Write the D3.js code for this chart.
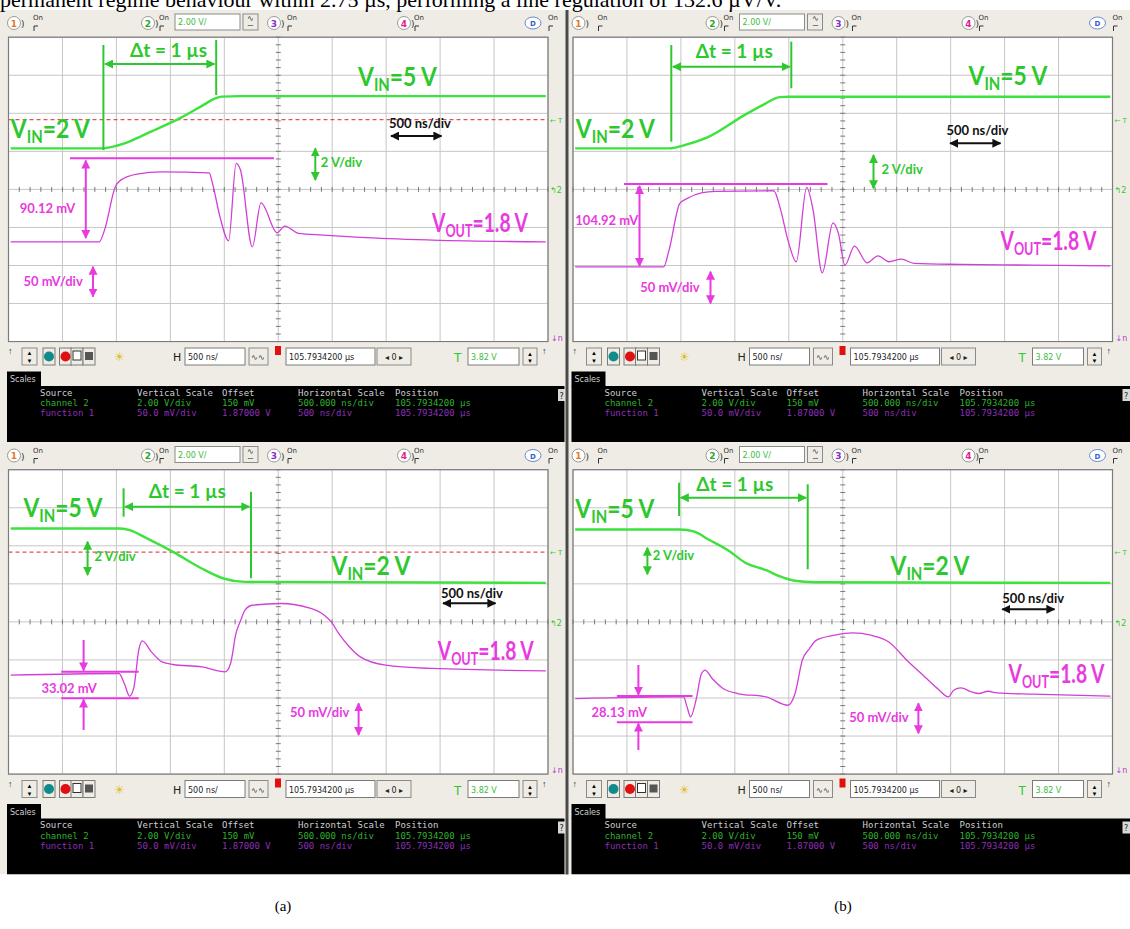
<!DOCTYPE html>
<html>
<head>
<meta charset="utf-8">
<script src="https://cdn.jsdelivr.net/npm/d3@7"></script>
<style>
  body { margin: 0; background: #fff; }
  svg { display: block; }
</style>
</head>
<body>
<svg id="fig" width="1130" height="929"></svg>
<script>
// ---------- data read off the four scope captures ----------
// time in µs (screen centre = 0), channel 2 in V, function 1 in V
const titleText = "permanent regime behaviour within 2.75 µs, performing a line regulation of 132.6 µV/V.";
const panelLabels = ["(a)", "(b)"];

const vinRiseA = [[-2.48, 2.305], [-1.65, 2.305], [-1.51, 2.426], [-1.37, 2.689], [-1.19, 3.162],
  [-0.91, 3.898], [-0.68, 4.634], [-0.59, 4.923], [-0.52, 5.028], [-0.35, 5.054], [2.48, 5.054]];
const voutRiseA = [[-2.48, 1.801], [-1.66, 1.801], [-1.61, 1.8165], [-1.51, 1.8734], [-1.46, 1.8822],
  [-1.31, 1.8901], [-1.08, 1.8931], [-0.64, 1.8918], [-0.61, 1.8783], [-0.54, 1.834], [-0.46, 1.8025],
  [-0.39, 1.9042], [-0.35, 1.8954], [-0.24, 1.7946], [-0.16, 1.8524], [-0.01, 1.813], [0.06, 1.8218],
  [0.19, 1.8122], [0.42, 1.81], [0.76, 1.8069], [1.43, 1.8034], [2.48, 1.801]];

const vinRiseB = [[-2.48, 2.305], [-1.61, 2.305], [-1.467, 2.479], [-1.244, 2.915], [-0.911, 4.055],
  [-0.725, 4.634], [-0.586, 5.0], [-0.494, 5.017], [2.48, 5.017]];
const voutRiseB = [[-2.48, 1.7683], [-1.66, 1.7683], [-1.61, 1.7902], [-1.51, 1.8516], [-1.44, 1.8582],
  [-1.31, 1.8655], [-1.18, 1.8674], [-0.64, 1.8682], [-0.575, 1.8428], [-0.508, 1.8034], [-0.431, 1.7749],
  [-0.334, 1.8726], [-0.275, 1.8428], [-0.19, 1.7604], [-0.09, 1.8261], [-0.04, 1.8122], [0.02, 1.7705],
  [0.109, 1.7955], [0.227, 1.7735], [0.327, 1.7827], [0.427, 1.7749], [0.544, 1.7784], [0.66, 1.7728],
  [1.095, 1.7714], [1.763, 1.7705], [2.48, 1.7696]];

const vinFallA = [[-2.48, 5.06], [-1.46, 5.06], [-1.374, 4.97], [-1.244, 4.618], [-0.975, 3.829],
  [-0.709, 2.957], [-0.508, 2.431], [-0.308, 2.253], [2.48, 2.2]];
const voutFallA = [[-2.48, 1.8], [-1.476, 1.8022], [-1.427, 1.789], [-1.377, 1.7724], [-1.337, 1.7846],
  [-1.293, 1.8328], [-1.26, 1.845], [-1.176, 1.8306], [-1.076, 1.8174], [-0.975, 1.814], [-0.709, 1.8109],
  [-0.492, 1.8043], [-0.442, 1.8153], [-0.392, 1.8548], [-0.348, 1.8722], [-0.308, 1.8854], [-0.243, 1.8919],
  [0.025, 1.8942], [0.294, 1.888], [0.427, 1.8788], [0.494, 1.8696], [0.56, 1.8548], [0.66, 1.8371],
  [0.761, 1.824], [0.995, 1.8131], [1.429, 1.8088], [2.48, 1.8056]];

const vinFallB = [[-2.48, 5.007], [-1.51, 5.007], [-1.374, 4.891], [-1.244, 4.481], [-1.05, 3.866],
  [-0.911, 3.288], [-0.709, 2.867], [-0.575, 2.526], [-0.447, 2.316], [-0.262, 2.237], [2.48, 2.2]];
const voutFallB = [[-2.479, 1.7693], [-1.476, 1.7714], [-1.443, 1.7583], [-1.41, 1.7452], [-1.36, 1.7671],
  [-1.309, 1.8022], [-1.277, 1.8065], [-1.21, 1.7956], [-1.109, 1.7825], [-0.975, 1.7759], [-0.709, 1.7714],
  [-0.508, 1.7605], [-0.442, 1.7759], [-0.375, 1.8197], [-0.308, 1.835], [-0.243, 1.846], [-0.074, 1.8525],
  [0.093, 1.8555], [0.26, 1.8525], [0.427, 1.8437], [0.594, 1.8197], [0.761, 1.7977], [0.895, 1.7802],
  [0.978, 1.7714], [1.028, 1.7802], [1.095, 1.7833], [1.195, 1.778], [1.262, 1.7759], [1.345, 1.7789],
  [1.429, 1.7767], [1.763, 1.775], [2.481, 1.7724]];

const measureLabels = ["90.12 mV", "104.92 mV", "33.02 mV", "28.13 mV"];

const scaleHeader = ["Source", "Vertical Scale", "Offset", "Horizontal Scale", "Position"];
const scaleCh2 = ["channel 2", "2.00 V/div", "150 mV", "500.000 ns/div", "105.7934200 µs"];
const scaleFn1 = ["function 1", "50.0 mV/div", "1.87000 V", "500 ns/div", "105.7934200 µs"];

const chOffset = 0.15, chVdiv = 2.0;     // channel 2
const fnOffset = 1.87, fnVdiv = 0.05;    // function 1
const tDiv = 0.5;                        // µs per division
const trigLevel = 3.82;

// ---------- layout ----------
const G = { x0: 8.5, x1: 548, y0: 37.2, y1: 341.6 };
const C = {
  green: "#2ec82e", greenTrace: "#3de23d", mag: "#e83ae0", magTrace: "#d23fd6",
  beige: "#eeece4", grid: "#c6c6c6", trig: "#e25050"
};
const FONT = "Lato, 'Open Sans', 'DejaVu Sans', sans-serif";

const svg = d3.select("#fig");
const defs = svg.append("defs");
[["g", C.green], ["m", C.mag], ["k", "#111"]].forEach(([id, col]) => {
  defs.append("marker")
    .attr("id", "ah-" + id)
    .attr("viewBox", "0 0 10 10")
    .attr("refX", 9).attr("refY", 5)
    .attr("markerWidth", 9).attr("markerHeight", 9)
    .attr("markerUnits", "userSpaceOnUse")
    .attr("orient", "auto-start-reverse")
    .append("path").attr("d", "M0,0 L10,5 L0,10 z").attr("fill", col);
});

svg.append("rect").attr("width", 1130).attr("height", 929).attr("fill", "#fff");

// big label squeezed horizontally to the narrow width of the original font
function bigLabel(g, x, y, main, sub, rest, col, width) {
  const t = g.append("text").attr("x", 0).attr("y", 0)
    .attr("font-family", FONT).attr("font-weight", 700)
    .attr("font-size", 26).attr("fill", col);
  t.append("tspan").text(main);
  t.append("tspan").attr("font-size", 17).attr("dy", 5).text(sub);
  t.append("tspan").attr("dy", -5).text(rest);
  const w = t.node().getComputedTextLength();
  t.attr("transform", `translate(${x},${y}) scale(${width / w},1)`);
  return t;
}
const vinText = (g, x, y, rest, col) => bigLabel(g, x, y, "V", "IN", rest, col, 79);
const voutText = (g, x, y) => bigLabel(g, x, y, "V", "OUT", "=1.8 V", C.mag, 96);

function label(g, x, y, txt, col, size, anchor) {
  return g.append("text").attr("x", x).attr("y", y)
    .attr("font-family", FONT).attr("font-weight", 700)
    .attr("font-size", size || 13).attr("fill", col)
    .attr("text-anchor", anchor || "start").text(txt);
}
function arrow(g, x1, y1, x2, y2, id, col, both) {
  const l = g.append("line").attr("x1", x1).attr("y1", y1).attr("x2", x2).attr("y2", y2)
    .attr("stroke", col).attr("stroke-width", 2)
    .attr("marker-end", "url(#ah-" + id + ")");
  if (both) l.attr("marker-start", "url(#ah-" + id + ")");
}
function seg(g, x1, y1, x2, y2, col, w) {
  g.append("line").attr("x1", x1).attr("y1", y1).attr("x2", x2).attr("y2", y2)
    .attr("stroke", col).attr("stroke-width", w || 2);
}

function drawHeader(g) {
  g.append("rect").attr("x", 0).attr("y", 10).attr("width", 566).attr("height", 27).attr("fill", C.beige);
  const chans = [
    { x: 14, n: "1", col: "#e07a2a", on: 33 },
    { x: 148, n: "2", col: "#2aa82a", on: 159 },
    { x: 274, n: "3", col: "#8a2fc8", on: 287 },
    { x: 404, n: "4", col: "#e0248a", on: 414 }
  ];
  chans.forEach(c => {
    g.append("circle").attr("cx", c.x).attr("cy", 23).attr("r", 6.5)
      .attr("fill", "#fff").attr("stroke", "#9a9a9a");
    g.append("text").attr("x", c.x).attr("y", 26.5).attr("text-anchor", "middle")
      .attr("font-family", "DejaVu Sans").attr("font-size", 9).attr("font-weight", 700)
      .attr("fill", c.col).text(c.n);
    g.append("text").attr("x", c.x + 7).attr("y", 27).attr("font-family", "DejaVu Sans")
      .attr("font-size", 9).attr("fill", "#333").text(")");
    g.append("text").attr("x", c.on).attr("y", 20).attr("font-family", "DejaVu Sans")
      .attr("font-size", 7).attr("fill", "#333").text("On");
    g.append("path").attr("d", `M${c.on + 1},31 v-5 h4`).attr("fill", "none")
      .attr("stroke", "#333").attr("stroke-width", 1);
  });
  // channel 2 scale box and coupling button
  g.append("rect").attr("x", 175).attr("y", 14).attr("width", 65).attr("height", 16)
    .attr("fill", "#fff").attr("stroke", "#8a8a8a");
  g.append("text").attr("x", 178).attr("y", 25).attr("font-family", "DejaVu Sans")
    .attr("font-size", 8).attr("fill", "#3bbd3b").text("2.00 V/");
  g.append("rect").attr("x", 243).attr("y", 14).attr("width", 15).attr("height", 16)
    .attr("fill", C.beige).attr("stroke", "#8a8a8a");
  g.append("text").attr("x", 250.5).attr("y", 21).attr("text-anchor", "middle")
    .attr("font-size", 8).attr("fill", "#333").text("∿");
  g.append("text").attr("x", 250.5).attr("y", 28).attr("text-anchor", "middle")
    .attr("font-size", 8).attr("fill", "#333").text("∼");
  // digital channel
  g.append("ellipse").attr("cx", 533).attr("cy", 23).attr("rx", 8).attr("ry", 6)
    .attr("fill", "#fff").attr("stroke", "#6a8ad0");
  g.append("text").attr("x", 533).attr("y", 26).attr("text-anchor", "middle")
    .attr("font-family", "DejaVu Sans").attr("font-size", 7).attr("font-weight", 700)
    .attr("fill", "#2f5fd0").text("D");
  g.append("text").attr("x", 548).attr("y", 20).attr("font-family", "DejaVu Sans")
    .attr("font-size", 7).attr("fill", "#333").text("On");
  g.append("path").attr("d", "M549,31 v-5 h4").attr("fill", "none").attr("stroke", "#333");
}

function drawToolbar(g) {
  g.append("rect").attr("x", 0).attr("y", 342.5).attr("width", 566).attr("height", 44).attr("fill", C.beige);
  const box = (x, w, txt, col) => {
    g.append("rect").attr("x", x).attr("y", 348).attr("width", w).attr("height", 17)
      .attr("fill", "#fff").attr("stroke", "#7a7a7a");
    if (txt) g.append("text").attr("x", x + 3).attr("y", 360).attr("font-family", "DejaVu Sans")
      .attr("font-size", 8).attr("fill", col || "#222").text(txt);
  };
  g.append("text").attr("x", 8).attr("y", 354).attr("font-size", 9).attr("fill", "#333").text("↑");
  g.append("rect").attr("x", 22).attr("y", 348).attr("width", 15).attr("height", 17)
    .attr("fill", C.beige).attr("stroke", "#8a8a8a");
  g.append("text").attr("x", 29.5).attr("y", 355).attr("text-anchor", "middle").attr("font-size", 6).text("▲");
  g.append("text").attr("x", 29.5).attr("y", 363).attr("text-anchor", "middle").attr("font-size", 6).text("▼");
  [43, 59.5, 71, 83].forEach(x => g.append("rect").attr("x", x).attr("y", 348).attr("width", 12)
    .attr("height", 17).attr("fill", C.beige).attr("stroke", "#7a7a7a"));
  g.append("circle").attr("cx", 49).attr("cy", 356.5).attr("r", 5).attr("fill", "#108a8a");
  g.append("circle").attr("cx", 65.5).attr("cy", 356.5).attr("r", 5).attr("fill", "#e01010");
  g.append("rect").attr("x", 73).attr("y", 351).attr("width", 8).attr("height", 9)
    .attr("fill", "#fff").attr("stroke", "#333");
  g.append("rect").attr("x", 85).attr("y", 352).attr("width", 8).attr("height", 8).attr("fill", "#555");
  g.append("text").attr("x", 119.5).attr("y", 361).attr("text-anchor", "middle")
    .attr("font-size", 12).attr("fill", "#e0c020").text("☀");
  g.append("text").attr("x", 173).attr("y", 361).attr("font-family", "DejaVu Sans")
    .attr("font-size", 11).attr("fill", "#222").text("H");
  box(185, 60, "500 ns/");
  g.append("rect").attr("x", 249).attr("y", 348).attr("width", 19).attr("height", 17)
    .attr("fill", C.beige).attr("stroke", "#8a8a8a");
  g.append("text").attr("x", 251).attr("y", 360).attr("font-size", 8).attr("fill", "#333").text("∿∿");
  g.append("rect").attr("x", 275).attr("y", 346).attr("width", 6).attr("height", 9).attr("fill", "#e01010");
  box(286, 89, "105.7934200 µs");
  g.append("rect").attr("x", 377).attr("y", 348).attr("width", 34).attr("height", 17)
    .attr("fill", C.beige).attr("stroke", "#8a8a8a");
  g.append("text").attr("x", 394).attr("y", 360).attr("text-anchor", "middle")
    .attr("font-family", "DejaVu Sans").attr("font-size", 8).attr("fill", "#222").text("◂ 0 ▸");
  g.append("text").attr("x", 454).attr("y", 362).attr("font-family", "DejaVu Sans")
    .attr("font-size", 12).attr("fill", "#2ec82e").text("T");
  box(468, 51, "3.82 V", "#3bbd3b");
  g.append("rect").attr("x", 523).attr("y", 348).attr("width", 14).attr("height", 17)
    .attr("fill", C.beige).attr("stroke", "#8a8a8a");
  g.append("text").attr("x", 530).attr("y", 356).attr("text-anchor", "middle").attr("font-size", 6).text("▲");
  g.append("text").attr("x", 530).attr("y", 363).attr("text-anchor", "middle").attr("font-size", 6).text("▼");
  g.append("text").attr("x", 542).attr("y", 354).attr("font-size", 9).attr("fill", "#333").text("↑");

  // Scales tab + black info panel
  g.append("rect").attr("x", 7).attr("y", 386).attr("width", 559).attr("height", 56).attr("fill", "#000");
  g.append("rect").attr("x", 7).attr("y", 371.5).attr("width", 34).attr("height", 15).attr("fill", "#000");
  g.append("text").attr("x", 10).attr("y", 382).attr("font-family", "DejaVu Sans")
    .attr("font-size", 8).attr("fill", "#cfcfcf").text("Scales");
  const cols = [40, 137, 222, 298, 395];
  [[scaleHeader, "#cfcfcf", 395.5], [scaleCh2, "#2fb02f", 406], [scaleFn1, "#8c2fb8", 416]].forEach(([row, col, y]) => {
    row.forEach((s, i) => g.append("text").attr("x", cols[i]).attr("y", y)
      .attr("font-family", "'DejaVu Sans Mono', monospace").attr("font-size", 9)
      .attr("fill", col).text(s));
  });
  g.append("rect").attr("x", 558).attr("y", 389).attr("width", 8).attr("height", 12).attr("fill", "#d8d8d8");
  g.append("text").attr("x", 559.5).attr("y", 398.5).attr("font-family", "DejaVu Sans")
    .attr("font-size", 8).attr("fill", "#222").text("?");
}

function drawPanel(ox, oy, p) {
  const g = svg.append("g").attr("transform", `translate(${ox},${oy})`);
  g.append("rect").attr("x", 0).attr("y", 10).attr("width", 566).attr("height", 432).attr("fill", C.beige);
  drawHeader(g);

  const x = d3.scaleLinear().domain([-5 * tDiv, 5 * tDiv]).range([G.x0, G.x1]);
  const yCh = d3.scaleLinear().domain([chOffset - 4 * chVdiv, chOffset + 4 * chVdiv]).range([G.y1, G.y0]);
  const yFn = d3.scaleLinear().domain([fnOffset - 4 * fnVdiv, fnOffset + 4 * fnVdiv]).range([G.y1, G.y0]);

  // graticule
  g.append("rect").attr("x", G.x0).attr("y", G.y0).attr("width", G.x1 - G.x0).attr("height", G.y1 - G.y0)
    .attr("fill", "#fff");
  const tLines = d3.range(-5, 6).map(k => k * tDiv);
  const vLines = d3.range(-4, 5).map(k => chOffset + k * chVdiv);
  g.append("g").selectAll("line").data(tLines).join("line")
    .attr("x1", d => x(d)).attr("x2", d => x(d)).attr("y1", G.y0).attr("y2", G.y1)
    .attr("stroke", C.grid).attr("stroke-width", 1);
  g.append("g").selectAll("line").data(vLines).join("line")
    .attr("x1", G.x0).attr("x2", G.x1).attr("y1", d => yCh(d)).attr("y2", d => yCh(d))
    .attr("stroke", C.grid).attr("stroke-width", 1);
  const minorT = d3.range(-25, 26).map(k => k * tDiv / 5);
  const minorV = d3.range(-20, 21).map(k => chOffset + k * chVdiv / 5);
  g.append("g").selectAll("line").data(minorT).join("line")
    .attr("x1", d => x(d)).attr("x2", d => x(d))
    .attr("y1", yCh(chOffset) - 2.5).attr("y2", yCh(chOffset) + 2.5)
    .attr("stroke", "#7a7a7a").attr("stroke-width", 1);
  g.append("g").selectAll("line").data(minorV).join("line")
    .attr("y1", d => yCh(d)).attr("y2", d => yCh(d))
    .attr("x1", x(0) - 2.5).attr("x2", x(0) + 2.5)
    .attr("stroke", "#7a7a7a").attr("stroke-width", 1);
  g.append("rect").attr("x", G.x0).attr("y", G.y0).attr("width", G.x1 - G.x0).attr("height", G.y1 - G.y0)
    .attr("fill", "none").attr("stroke", "#7c7c7c").attr("stroke-width", 1.2);

  // side markers
  g.append("text").attr("x", G.x1 + 2).attr("y", yCh(trigLevel) + 3).attr("font-family", "DejaVu Sans")
    .attr("font-size", 7).attr("fill", C.green).text("← T");
  g.append("text").attr("x", G.x1 + 2).attr("y", yCh(chOffset) + 4).attr("font-family", "DejaVu Sans")
    .attr("font-size", 8).attr("fill", C.green).text("↰2");
  g.append("text").attr("x", G.x1 + 3).attr("y", G.y1 - 1).attr("font-family", "DejaVu Sans")
    .attr("font-size", 8).attr("fill", "#b040d0").text("↓n");

  const plot = g.append("g");
  if (p.trigger) {
    plot.append("line").attr("x1", G.x0).attr("x2", G.x1)
      .attr("y1", yCh(trigLevel)).attr("y2", yCh(trigLevel))
      .attr("stroke", C.trig).attr("stroke-width", 1.2).attr("stroke-dasharray", "4,3");
  }
  const lineCh = d3.line().x(d => x(d[0])).y(d => yCh(d[1])).curve(d3.curveMonotoneX);
  const lineFn = d3.line().x(d => x(d[0])).y(d => yFn(d[1])).curve(d3.curveMonotoneX);
  plot.append("path").datum(p.vin).attr("d", lineCh).attr("fill", "none")
    .attr("stroke", C.greenTrace).attr("stroke-width", 2.4);
  plot.append("path").datum(p.vout).attr("d", lineFn).attr("fill", "none")
    .attr("stroke", C.magTrace).attr("stroke-width", 1.3);

  p.annotate(g);
  drawToolbar(g);
}

// ---------- the four captures ----------
const panels = [
  { ox: 0, oy: 0, vin: vinRiseA, vout: voutRiseA, trigger: true, annotate: g => {
      seg(g, 103.4, 45, 103.4, 150, C.green); seg(g, 216.2, 40, 216.2, 95, C.green);
      arrow(g, 105, 64, 214.5, 64, "g", C.green, true);
      label(g, 168.5, 57, "Δt = 1 µs", C.green, 19, "middle");
      vinText(g, 358, 86, "=5 V", C.green);
      vinText(g, 10.8, 138.3, "=2 V", C.green);
      label(g, 389, 128.3, "500 ns/div", "#111");
      arrow(g, 391, 136, 441.5, 136, "k", "#111", true);
      arrow(g, 315.3, 148.3, 315.3, 180, "g", C.green, true);
      label(g, 320.7, 167.3, "2 V/div", C.green);
      seg(g, 70, 158.3, 274, 158.3, C.mag);
      arrow(g, 85.8, 160.5, 85.8, 238, "m", C.mag, true);
      label(g, 19.8, 213, measureLabels[0], C.mag);
      label(g, 23.4, 285.7, "50 mV/div", C.mag);
      arrow(g, 93, 266.7, 93, 296.7, "m", C.mag, true);
      voutText(g, 432, 231.7);
    } },
  { ox: 564.5, oy: 0, vin: vinRiseB, vout: voutRiseB, trigger: false, annotate: g => {
      seg(g, 106.8, 45, 106.8, 141.7, C.green); seg(g, 226.8, 41.7, 226.8, 88.3, C.green);
      arrow(g, 108.4, 66.7, 225.2, 66.7, "g", C.green, true);
      label(g, 169.8, 58.3, "Δt = 1 µs", C.green, 19, "middle");
      vinText(g, 404, 85, "=5 V", C.green);
      vinText(g, 11.3, 138, "=2 V", C.green);
      label(g, 382, 135, "500 ns/div", "#111");
      arrow(g, 385.6, 143.3, 436, 143.3, "k", "#111", true);
      arrow(g, 309, 155, 309, 188.3, "g", C.green, true);
      label(g, 317, 174, "2 V/div", C.green);
      seg(g, 59.5, 184, 263, 184, C.mag);
      arrow(g, 75, 186, 75, 266, "m", C.mag, true);
      label(g, 10.8, 225, measureLabels[1], C.mag);
      label(g, 75.7, 291.7, "50 mV/div", C.mag);
      arrow(g, 146, 271.7, 146, 303.3, "m", C.mag, true);
      voutText(g, 436, 250);
    } },
  { ox: 0, oy: 432.5, vin: vinFallA, vout: voutFallA, trigger: true, annotate: g => {
      vinText(g, 23.4, 84.2, "=5 V", C.green);
      seg(g, 123.6, 55.8, 123.6, 84.2, C.green); seg(g, 251, 59.2, 251, 145.8, C.green);
      arrow(g, 125.2, 74.2, 249.4, 74.2, "g", C.green, true);
      label(g, 187.3, 65.8, "Δt = 1 µs", C.green, 19, "middle");
      arrow(g, 87.6, 109.2, 87.6, 142.5, "g", C.green, true);
      label(g, 94.4, 128.2, "2 V/div", C.green);
      vinText(g, 331.5, 142.5, "=2 V", C.green);
      label(g, 441, 165.8, "500 ns/div", "#111");
      arrow(g, 443, 170.8, 495.5, 170.8, "k", "#111", true);
      seg(g, 61.3, 239.2, 138.7, 239.2, C.mag); seg(g, 61.3, 265.8, 138.7, 265.8, C.mag);
      arrow(g, 83.6, 207.5, 83.6, 238, "m", C.mag, false);
      arrow(g, 83.6, 297.5, 83.6, 267, "m", C.mag, false);
      label(g, 41.4, 260.8, measureLabels[2], C.mag);
      voutText(g, 437.8, 227.5);
      label(g, 290, 284.2, "50 mV/div", C.mag);
      arrow(g, 358.6, 270.8, 358.6, 302.5, "m", C.mag, true);
    } },
  { ox: 564.5, oy: 432.5, vin: vinFallB, vout: voutFallB, trigger: false, annotate: g => {
      vinText(g, 10.8, 85.2, "=5 V", C.green);
      seg(g, 114.6, 50.2, 114.6, 83.5, C.green); seg(g, 243.2, 51.8, 243.2, 136.8, C.green);
      arrow(g, 116.2, 65.2, 241.6, 65.2, "g", C.green, true);
      label(g, 170.3, 58.5, "Δt = 1 µs", C.green, 19, "middle");
      arrow(g, 82.9, 115.2, 82.9, 141.8, "g", C.green, true);
      label(g, 88.3, 127.5, "2 V/div", C.green);
      vinText(g, 326, 142.5, "=2 V", C.green);
      label(g, 437.8, 170.8, "500 ns/div", "#111");
      arrow(g, 437.8, 176.8, 490, 176.8, "k", "#111", true);
      seg(g, 52.3, 263.5, 128, 263.5, C.mag); seg(g, 52.3, 289.8, 128, 289.8, C.mag);
      arrow(g, 73.9, 232.5, 73.9, 262.3, "m", C.mag, false);
      arrow(g, 73.9, 317.5, 73.9, 291, "m", C.mag, false);
      label(g, 27, 284.2, measureLabels[3], C.mag);
      voutText(g, 444, 250.8);
      label(g, 284.7, 289.2, "50 mV/div", C.mag);
      arrow(g, 353.9, 270.8, 353.9, 300.8, "m", C.mag, true);
    } }
];

panels.forEach(p => drawPanel(p.ox, p.oy, p));

// separators
svg.append("rect").attr("x", 565.5).attr("y", 10).attr("width", 3).attr("height", 865).attr("fill", "#4a4a4a");
svg.append("rect").attr("x", 0).attr("y", 874.5).attr("width", 1130).attr("height", 54.5).attr("fill", "#fff");

// title (cut by the top edge, as in the source figure) and sub-figure labels
svg.append("text").attr("x", 0).attr("y", 7).attr("font-family", "'Liberation Serif', serif")
  .attr("font-size", 22).attr("fill", "#000").text(titleText);
svg.selectAll(".plabel").data(panelLabels).join("text").attr("class", "plabel")
  .attr("x", (d, i) => [283, 843][i]).attr("y", 911).attr("text-anchor", "middle")
  .attr("font-family", "'Liberation Serif', serif").attr("font-size", 15).attr("fill", "#000")
  .text(d => d);
</script>
</body>
</html>
